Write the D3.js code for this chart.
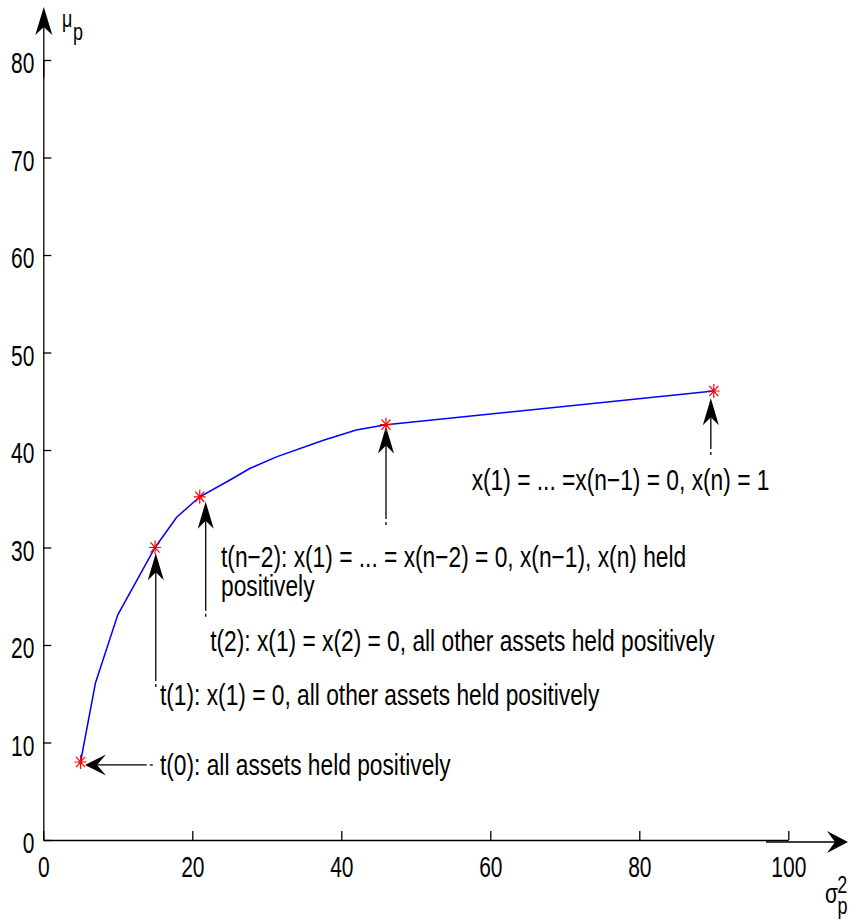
<!DOCTYPE html>
<html>
<head>
<meta charset="utf-8">
<script src="https://cdn.jsdelivr.net/npm/d3@7"></script>
<style>
  body { margin: 0; background: #fff; }
  text { font-family: "Liberation Sans", Arial, Helvetica, sans-serif; fill: #000; }
</style>
</head>
<body>
<div class="canvas"></div>
<script>
// frontier points (variance, expected return)
const sigma2 = [5, 7, 10, 15, 17.9, 21, 25, 27.7, 31.3, 37.6, 42, 46, 90]
const mu = [8, 16.1, 23.1, 30, 33.1, 35.2, 36.9, 38.1, 39.3, 41.0, 42.05, 42.6, 46.05]

// corner portfolios marked with red stars
const cornerSigma2 = [5, 15, 21, 46, 90]
const cornerMu = [8, 30, 35.2, 42.6, 46.05]

// annotation arrows: tail -> tip, in data units
const arrowTail = [[14.7, 7.7], [15.1, 15.7], [21.8, 22.9], [46, 32.3], [89.6, 39.5]]
const arrowTip = [[5.6, 7.7], [15.1, 29.4], [21.8, 34.7], [46, 42.4], [89.6, 45.3]]

// annotation texts, left edge + baseline of first line in data units
const labelText = [
  't(0): all assets held positively',
  't(1): x(1) = 0, all other assets held positively',
  't(2): x(1) = x(2) = 0, all other assets held positively',
  't(n\u22122): x(1) = ... = x(n\u22122) = 0, x(n\u22121), x(n) held\npositively',
  'x(1) = ... =x(n\u22121) = 0, x(n) = 1'
]
const labelX = [15.66, 15.66, 22.4, 23.85, 57.5]
const labelY = [6.67, 13.85, 19.4, 28.0, 35.9]

const xTicks = [0, 20, 40, 60, 80, 100]
const yTicks = [0, 10, 20, 30, 40, 50, 60, 70, 80]

const svg = d3.select('.canvas').append('svg')
    .attr('width', 856)
    .attr('height', 924)

const x = d3.scaleLinear().domain([0, 100]).range([43.3, 788.3])
const y = d3.scaleLinear().domain([0, 80]).range([840, 60])

const tickSx = 0.7
const labelSx = 0.785

// axes
const xAxis = svg.append('g')
    .attr('transform', 'translate(0,840)')
    .call(d3.axisBottom(x).tickValues(xTicks).tickSizeInner(-9).tickSizeOuter(0).tickPadding(16))
const yAxis = svg.append('g')
    .attr('transform', 'translate(43.3,0)')
    .call(d3.axisLeft(y).tickValues(yTicks).tickSizeInner(-8).tickSizeOuter(0).tickPadding(7))

svg.selectAll('.domain, .tick line')
    .attr('stroke', '#000')
    .attr('stroke-width', 1.3)

xAxis.selectAll('text')
    .attr('font-size', 30)
    .attr('font-family', null)
    .attr('transform', `scale(${tickSx},1)`)
yAxis.selectAll('text')
    .attr('font-size', 30)
    .attr('font-family', null)
    .attr('dy', '0.42em')
    .attr('x', -9 / tickSx)
    .attr('transform', `scale(${tickSx},1)`)

// arrow helper: line plus concave black head
function arrow(x1, y1, x2, y2, L, W, N, dash) {
  const len = Math.hypot(x2 - x1, y2 - y1)
  const dx = (x2 - x1) / len, dy = (y2 - y1) / len
  const nx = -dy, ny = dx
  const g = svg.append('g')
  if (dash) {
    g.append('line')
        .attr('x1', x1 + dx * 6).attr('y1', y1 + dy * 6)
        .attr('x2', x2 - dx * N).attr('y2', y2 - dy * N)
        .attr('stroke', '#000').attr('stroke-width', 1.3)
    g.append('line')
        .attr('x1', x1).attr('y1', y1)
        .attr('x2', x1 + dx * 3).attr('y2', y1 + dy * 3)
        .attr('stroke', '#000').attr('stroke-width', 1.3)
  } else {
    g.append('line')
        .attr('x1', x1).attr('y1', y1)
        .attr('x2', x2 - dx * N).attr('y2', y2 - dy * N)
        .attr('stroke', '#000').attr('stroke-width', 1.3)
  }
  const pts = [
    [x2, y2],
    [x2 - dx * L + nx * W, y2 - dy * L + ny * W],
    [x2 - dx * N, y2 - dy * N],
    [x2 - dx * L - nx * W, y2 - dy * L - ny * W]
  ]
  g.append('path')
      .attr('d', 'M' + pts.join('L') + 'Z')
      .attr('fill', '#000')
}

// axis arrows
arrow(x(0) + 0.5, y(78.2), x(0) + 0.5, 7, 28, 8.5, 20, false)
arrow(x(97), 842, 848, 842, 21, 11, 13, false)

// axis titles
function sText(tx, ty, str, size, sx) {
  return svg.append('text')
      .attr('transform', `translate(${tx},${ty}) scale(${sx},1)`)
      .attr('font-size', size)
      .text(str)
}
const muLabel = sText(62, 27, '\u03bc', 23, 0.78)
muLabel.append('tspan').attr('dx', 1).attr('dy', 13).text('p')

const sigLabel = sText(825, 903, '\u03c3', 28, 0.75)
sigLabel.append('tspan').attr('dx', -1).attr('dy', -10).attr('font-size', 24).text('2')
sigLabel.append('tspan').attr('dx', -13).attr('dy', 21).attr('font-size', 24).text('p')

// frontier line
const line = d3.line()
    .x((d, i) => x(sigma2[i]))
    .y((d, i) => y(mu[i]))
svg.append('path')
    .datum(mu)
    .attr('d', line)
    .attr('fill', 'none')
    .attr('stroke', '#0000ff')
    .attr('stroke-width', 1.5)

// annotation arrows
arrowTail.forEach((t, i) => {
  const p = arrowTip[i]
  const vertical = t[0] === p[0]
  arrow(x(t[0]), y(t[1]), x(p[0]), y(p[1]),
        vertical ? 27 : 21, vertical ? 8 : 10.5, vertical ? 19 : 12, true)
})

// red star markers
const star = 'M-6,0L6,0M0,-7L0,7M-4.5,-5.2L4.5,5.2M-4.5,5.2L4.5,-5.2'
svg.selectAll('.star')
    .data(cornerMu)
    .enter().append('path')
    .attr('class', 'star')
    .attr('transform', (d, i) => `translate(${x(cornerSigma2[i])},${y(d)})`)
    .attr('d', star)
    .attr('stroke', '#ff0000')
    .attr('stroke-width', 1.2)
    .attr('fill', 'none')

// annotation labels (multi-line via tspans)
labelText.forEach((s, i) => {
  const t = sText(x(labelX[i]), y(labelY[i]), '', 29, labelSx)
  s.split('\n').forEach((part, j) => {
    t.append('tspan').attr('x', 0).attr('dy', j === 0 ? 0 : 29).text(part)
  })
})
</script>
</body>
</html>
